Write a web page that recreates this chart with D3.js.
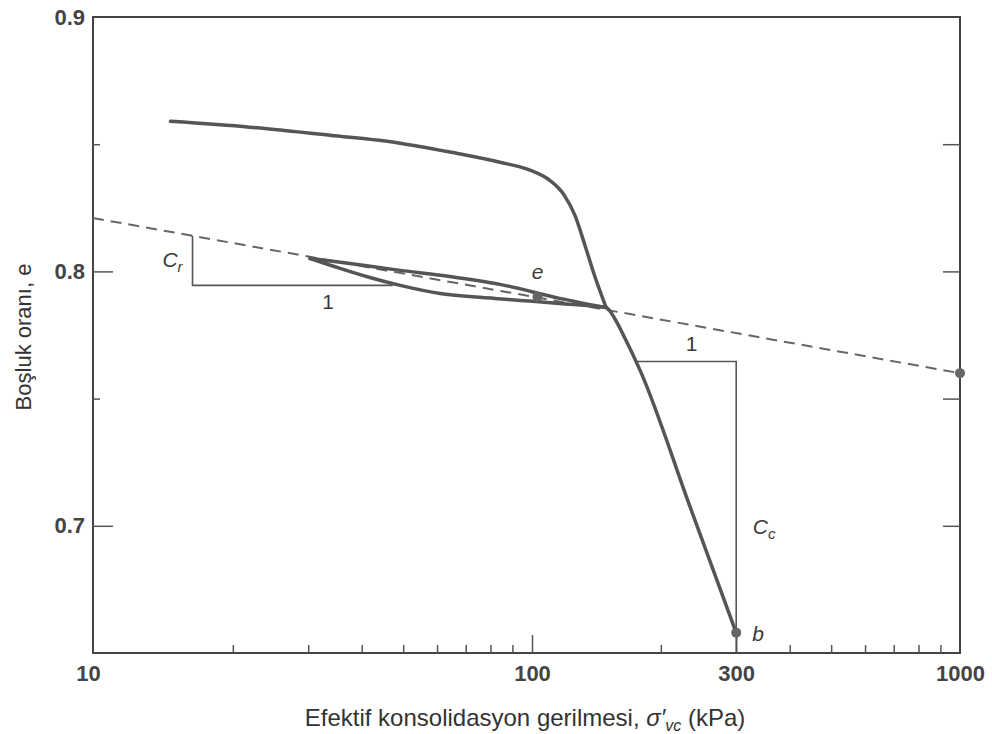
<!DOCTYPE html>
<html>
<head>
<meta charset="utf-8">
<script src="https://cdn.jsdelivr.net/npm/d3@7"></script>
<style>
  body { margin: 0; background: #fff; }
  svg { font-family: "Liberation Sans", Arial, sans-serif; }
  .tick text { font-size: 22px; font-weight: bold; fill: #444; }
</style>
</head>
<body>
<svg id="chart"></svg>
<script>
/* data: stress in kPa, void ratio e */
var virginStress = [14.3, 21.9, 33.7, 49.2, 64.3, 84.1, 98.9, 110, 119, 126, 133, 140, 149];
var virginE      = [0.859, 0.8567, 0.8535, 0.8504, 0.8469, 0.8429, 0.8398, 0.8358, 0.8299, 0.822, 0.8102, 0.7984, 0.7858];
var unloadStress = [30.3, 37.6, 49.2, 64.3, 84.1, 116, 149];
var unloadE      = [0.8051, 0.8031, 0.8004, 0.798, 0.7949, 0.7894, 0.7858];
var reloadStress = [30.3, 35.6, 41.8, 49.2, 61, 75.6, 93.8, 116, 149, 156, 165, 179, 234, 300];
var reloadE      = [0.8051, 0.8012, 0.7976, 0.7945, 0.7913, 0.7898, 0.7886, 0.7874, 0.7858, 0.7815, 0.7736, 0.761, 0.7075, 0.6579];
var crLineStress = [9.42, 1000];
var crLineE      = [0.821, 0.760];
var crTriStress  = [16.1, 16.1, 47.3];
var crTriE       = [0.814, 0.7945, 0.7945];
var ccTriStress  = [176, 300, 300];
var ccTriE       = [0.7646, 0.7646, 0.65];
var pointStress  = [103, 300, 1000];
var pointE       = [0.790, 0.658, 0.760];
var xTickValues  = [10, 100, 300, 1000];
var xMinorTicks  = [20, 30, 40, 50, 60, 70, 80, 90, 200, 400, 500, 600, 700, 800, 900];
var yTickValues  = [0.9, 0.8, 0.7];
var yMinorTicks  = [0.85, 0.75];

var width = 992, height = 734;
var frame = { left: 93, right: 960, top: 17, bottom: 653 };

var svg = d3.select("#chart").attr("width", width).attr("height", height);

var x = d3.scaleLog().domain([10, 1000]).range([104, 960]);
var y = d3.scaleLinear().domain([0.65, 0.9]).range([frame.bottom, frame.top]);

function zip(a, b){ return a.map(function(d, i){ return [d, b[i]]; }); }

var line = d3.line()
    .x(function(d){ return x(d[0]); })
    .y(function(d){ return y(d[1]); });
var smooth = d3.line()
    .x(function(d){ return x(d[0]); })
    .y(function(d){ return y(d[1]); })
    .curve(d3.curveMonotoneX);

/* frame */
svg.append("rect")
    .attr("x", frame.left).attr("y", frame.top)
    .attr("width", frame.right - frame.left)
    .attr("height", frame.bottom - frame.top)
    .attr("fill", "none").attr("stroke", "#444").attr("stroke-width", 2);

/* bottom axis, ticks pointing in */
svg.append("g").attr("transform", "translate(0," + frame.bottom + ")")
    .call(d3.axisBottom(x).tickValues([100, 300]).tickSize(-18).tickFormat(""))
    .select(".domain").remove();
svg.append("g").attr("transform", "translate(0," + frame.bottom + ")")
    .call(d3.axisBottom(x).tickValues(xMinorTicks).tickSize(-8).tickFormat(""))
    .select(".domain").remove();
var xLabels = svg.append("g").attr("transform", "translate(0," + frame.bottom + ")")
    .call(d3.axisBottom(x).tickValues(xTickValues).tickSize(0).tickPadding(12)
        .tickFormat(d3.format("d")));
xLabels.select(".domain").remove();
xLabels.selectAll(".tick").filter(function(d){ return d === 10; })
    .select("text").attr("dx", -16);

/* left axis */
var yAxisG = svg.append("g").attr("transform", "translate(" + frame.left + ",0)")
    .call(d3.axisLeft(y).tickValues(yTickValues).tickSize(-20)
        .tickFormat(d3.format(".1f")));
yAxisG.select(".domain").remove();
yAxisG.selectAll(".tick line").filter(function(d){ return d === 0.9; }).remove();
yAxisG.selectAll(".tick text").attr("x", -8);
svg.append("g").attr("transform", "translate(" + frame.left + ",0)")
    .call(d3.axisLeft(y).tickValues(yMinorTicks).tickSize(-7).tickFormat(""))
    .select(".domain").remove();
/* right axis */
svg.append("g").attr("transform", "translate(" + frame.right + ",0)")
    .call(d3.axisRight(y).tickValues([0.85, 0.8, 0.75, 0.7]).tickSize(-17).tickFormat(""))
    .select(".domain").remove();
svg.selectAll(".tick line").attr("stroke", "#555").attr("stroke-width", 1.5);

/* Cr dashed line */
svg.append("path")
    .attr("d", line(zip(crLineStress, crLineE)))
    .attr("fill", "none").attr("stroke", "#666")
    .attr("stroke-width", 2).attr("stroke-dasharray", "11,7");

/* slope triangles */
svg.append("path")
    .attr("d", line(zip(crTriStress, crTriE)))
    .attr("fill", "none").attr("stroke", "#555").attr("stroke-width", 1.6);
svg.append("path")
    .attr("d", line(zip(ccTriStress, ccTriE)))
    .attr("fill", "none").attr("stroke", "#555").attr("stroke-width", 1.6);

/* compression curve: loading, unloading loop, reloading */
[zip(virginStress, virginE), zip(unloadStress, unloadE), zip(reloadStress, reloadE)]
  .forEach(function(seg){
    svg.append("path")
        .attr("d", smooth(seg))
        .attr("fill", "none").attr("stroke", "#555")
        .attr("stroke-width", 3.5).attr("stroke-linecap", "round")
        .attr("stroke-linejoin", "round");
  });

/* points */
svg.selectAll("circle.pt")
    .data(zip(pointStress, pointE))
  .enter().append("circle")
    .attr("class", "pt")
    .attr("cx", function(d){ return x(d[0]); })
    .attr("cy", function(d){ return y(d[1]); })
    .attr("r", 5)
    .attr("fill", "#666");

/* annotations */
function note(sx, ey, txt, sub, dx, dy){
    var t = svg.append("text")
        .attr("x", x(sx) + dx).attr("y", y(ey) + dy)
        .attr("text-anchor", "middle")
        .attr("font-size", 21).attr("fill", "#3a3a3a");
    var main = t.append("tspan").text(txt);
    if (txt !== "1") main.attr("font-style", "italic");
    if (sub) t.append("tspan").text(sub).attr("font-size", 15)
        .attr("font-style", "italic").attr("dy", 5);
}
note(16.1, 0.804, "C", "r", -20, 6);
note(30.3, 0.7945, "1", null, 18, 24);
note(103, 0.790, "e", null, 0, -18);
note(236, 0.7646, "1", null, 0, -10);
note(300, 0.70, "C", "c", 28, 8);
note(300, 0.658, "b", null, 22, 8);

/* axis titles */
svg.append("text")
    .attr("transform", "translate(31,337) rotate(-90)")
    .attr("text-anchor", "middle")
    .attr("font-size", 22).attr("fill", "#333")
    .text("Boşluk oranı, e");

var xt = svg.append("text")
    .attr("x", 525).attr("y", 726)
    .attr("text-anchor", "middle")
    .attr("font-size", 24).attr("fill", "#333");
xt.append("tspan").text("Efektif konsolidasyon gerilmesi, ");
xt.append("tspan").text("σ′").attr("font-style", "italic");
xt.append("tspan").text("vc").attr("font-style", "italic").attr("font-size", 16).attr("dy", 5);
xt.append("tspan").text(" (kPa)").attr("dy", -5);
</script>
</body>
</html>
